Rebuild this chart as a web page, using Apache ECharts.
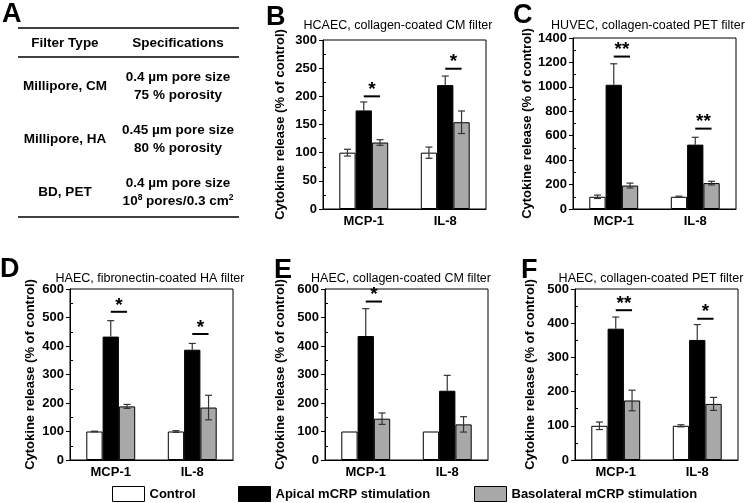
<!DOCTYPE html>
<html><head><meta charset="utf-8">
<script src="https://cdn.jsdelivr.net/npm/echarts@6/dist/echarts.min.js"></script>
<style>html,body{margin:0;padding:0;background:#fff}#c{width:745px;height:503px}</style>
</head><body><div id="c"></div>
<script>
// ---------- DATA ----------
const categories = ['MCP-1', 'IL-8'];
const seriesNames = ['Control', 'Apical mCRP stimulation', 'Basolateral mCRP stimulation'];

// Panel B
const bTitle = 'HCAEC, collagen-coated CM filter';
const bControl = [100, 100];   const bControlErr = [6, 10];
const bApical = [175, 220];    const bApicalErr = [15, 16];
const bBaso = [118, 154];      const bBasoErr = [5, 20];
const bSigY = [200, 249];      const bSigStars = [1, 1];
const bTicks = [0, 300, 50];

// Panel C
const cTitle = 'HUVEC, collagen-coated PET filter';
const cControl = [100, 100];   const cControlErr = [14, 5];
const cApical = [1017, 527];   const cApicalErr = [172, 60];
const cBaso = [192, 212];      const cBasoErr = [20, 15];
const cSigY = [1248, 658];     const cSigStars = [2, 2];
const cTicks = [0, 1400, 200];

// Panel D
const dTitle = 'HAEC, fibronectin-coated HA filter';
const dControl = [100, 100];   const dControlErr = [1, 3];
const dApical = [433, 387];    const dApicalErr = [56, 22];
const dBaso = [188, 184];      const dBasoErr = [7, 43];
const dSigY = [520, 442];      const dSigStars = [1, 1];
const dTicks = [0, 600, 100];

// Panel E
const eTitle = 'HAEC, collagen-coated CM filter';
const eControl = [100, 100];   const eControlErr = [0, 0];
const eApical = [435, 243];    const eApicalErr = [96, 54];
const eBaso = [145, 125];      const eBasoErr = [20, 27];
const eSigY = [556];           const eSigStars = [1];
const eTicks = [0, 600, 100];

// Panel F
const fTitle = 'HAEC, collagen-coated PET filter';
const fControl = [100, 100];   const fControlErr = [11, 3];
const fApical = [384, 351];    const fApicalErr = [34, 45];
const fBaso = [174, 164];      const fBasoErr = [30, 19];
const fSigY = [438, 413];      const fSigStars = [2, 1];
const fTicks = [0, 500, 100];

// Panel A table
const tableHeader = ['Filter Type', 'Specifications'];
const tableTypes = ['Millipore, CM', 'Millipore, HA', 'BD, PET'];
const tableSpec1 = ['0.4 µm pore size', '0.45 µm pore size', '0.4 µm pore size'];
const tableSpec2 = ['75 % porosity', '80 % porosity', '10{sup|8} pores/0.3 cm{sup|2}'];

// ---------- LAYOUT / STYLE ----------
const FONT = 'Liberation Sans, Arial, sans-serif';
const GAP = 0.40;
const CAP = 7;
const barColors = ['#ffffff', '#000000', '#a8a8a8'];

const panels = [
  {letter:'B', title:bTitle, vals:[bControl,bApical,bBaso], errs:[bControlErr,bApicalErr,bBasoErr], sigY:bSigY, sigS:bSigStars, ticks:bTicks,
   grid:{left:323, top:40, width:163, height:169}, titleX:393, titleY:14, letterPos:[266,4], nameGap:36},
  {letter:'C', title:cTitle, vals:[cControl,cApical,cBaso], errs:[cControlErr,cApicalErr,cBasoErr], sigY:cSigY, sigS:cSigStars, ticks:cTicks,
   grid:{left:573, top:38, width:163, height:171}, titleX:643, titleY:14, letterPos:[513,2], nameGap:36},
  {letter:'D', title:dTitle, vals:[dControl,dApical,dBaso], errs:[dControlErr,dApicalErr,dBasoErr], sigY:dSigY, sigS:dSigStars, ticks:dTicks,
   grid:{left:70, top:289, width:163, height:171}, titleX:145, titleY:267, letterPos:[0,256], nameGap:33},
  {letter:'E', title:eTitle, vals:[eControl,eApical,eBaso], errs:[eControlErr,eApicalErr,eBasoErr], sigY:eSigY, sigS:eSigStars, ticks:eTicks,
   grid:{left:325, top:289, width:163, height:171}, titleX:396, titleY:267, letterPos:[274,257], nameGap:38},
  {letter:'F', title:fTitle, vals:[fControl,fApical,fBaso], errs:[fControlErr,fApicalErr,fBasoErr], sigY:fSigY, sigS:fSigStars, ticks:fTicks,
   grid:{left:575, top:289, width:163, height:171}, titleX:646, titleY:267, letterPos:[521,257], nameGap:38}
];

function errRender(params, api) {
  const cat = api.value(0), k = api.value(1), v = api.value(2), e = api.value(3);
  if (!e) return null;
  const band = api.size([1, 0])[0];
  const bw = band * (1 - GAP) / 3;
  const cx = api.coord([cat, v])[0] + (k - 1) * bw;
  const top = api.coord([cat, v + e])[1];
  const mid = api.coord([cat, v])[1];
  const bot = api.coord([cat, v - e])[1];
  const st = {stroke: '#333', lineWidth: 1.2};
  const ch = [
    {type:'line', shape:{x1:cx, y1:top, x2:cx, y2:(k === 1 ? mid : bot)}, style:st},
    {type:'line', shape:{x1:cx - CAP/2, y1:top, x2:cx + CAP/2, y2:top}, style:st}
  ];
  if (k !== 1) ch.push({type:'line', shape:{x1:cx - CAP/2, y1:bot, x2:cx + CAP/2, y2:bot}, style:st});
  return {type:'group', children: ch};
}

function sigRender(params, api) {
  const cat = api.value(0), y = api.value(1), n = api.value(2);
  const band = api.size([1, 0])[0];
  const bw = band * (1 - GAP) / 3;
  const c = api.coord([cat, y]);
  const x1 = c[0], x2 = c[0] + bw;
  return {type:'group', children:[
    {type:'line', shape:{x1:x1, y1:c[1], x2:x2, y2:c[1]}, style:{stroke:'#000', lineWidth:2}},
    {type:'text', x:(x1 + x2) / 2, y:c[1] + 3, style:{text:'*'.repeat(n), fill:'#000', font:'bold 19px ' + FONT, textAlign:'center', textVerticalAlign:'bottom'}}
  ]};
}

const grids = [], xAxes = [], yAxes = [], series = [], titles = [], graphics = [];

panels.forEach((p, i) => {
  grids.push(Object.assign({show:true, borderColor:'#000', borderWidth:1, containLabel:false}, p.grid));
  xAxes.push({
    type:'category', gridIndex:i, data:categories,
    axisLine:{lineStyle:{color:'#000', width:1}},
    axisTick:{alignWithLabel:true, length:4, lineStyle:{color:'#000'}},
    axisLabel:{color:'#000', fontFamily:FONT, fontWeight:'bold', fontSize:13, margin:6}
  });
  yAxes.push({
    type:'value', gridIndex:i, position:'left', min:p.ticks[0], max:p.ticks[1], interval:p.ticks[2],
    name:'Cytokine release (% of control)', nameLocation:'middle', nameGap:p.nameGap,
    nameTextStyle:{color:'#000', fontFamily:FONT, fontWeight:'bold', fontSize:13},
    axisLine:{show:true, lineStyle:{color:'#000', width:1}},
    axisTick:{show:true, length:4, lineStyle:{color:'#000'}},
    axisLabel:{color:'#000', fontFamily:FONT, fontWeight:'bold', fontSize:13, margin:6, formatter:(v) => String(v)},
    splitLine:{show:false}
  });
  yAxes.push({
    type:'value', gridIndex:i, position:'left', offset:0, min:p.ticks[0], max:p.ticks[1], interval:p.ticks[2],
    axisLine:{show:false}, axisLabel:{show:false}, splitLine:{show:false},
    axisTick:{show:true, inside:true, length:0, lineStyle:{color:'#000', width:0}},
    minorTick:{show:true, splitNumber:2, length:3, lineStyle:{color:'#000', width:1}}
  });
  p.vals.forEach((v, k) => {
    series.push({
      type:'bar', name:seriesNames[k], xAxisIndex:i, yAxisIndex:2*i, data:v,
      barGap:'0%', barCategoryGap:(GAP*100) + '%',
      itemStyle:{color:barColors[k], borderColor:'#000', borderWidth:1},
      emphasis:{disabled:true}, z:2
    });
  });
  const errData = [];
  p.vals.forEach((v, k) => v.forEach((val, c) => errData.push([c, k, val, p.errs[k][c]])));
  series.push({type:'custom', xAxisIndex:i, yAxisIndex:2*i, renderItem:errRender, data:errData,
    encode:{x:0, y:2}, z:5, silent:true});
  const sigData = p.sigY.map((y, c) => [c, y, p.sigS[c]]);
  series.push({type:'custom', xAxisIndex:i, yAxisIndex:2*i, renderItem:sigRender, data:sigData,
    encode:{x:0, y:1}, z:5, silent:true});
  titles.push({text:p.title, left:p.titleX, top:p.titleY, textAlign:'center',
    textStyle:{color:'#000', fontFamily:FONT, fontWeight:'normal', fontSize:12.5}});
  graphics.push({type:'text', left:p.letterPos[0], top:p.letterPos[1],
    style:{text:p.letter, fill:'#000', font:'bold 27px ' + FONT}});
});

// Panel A
graphics.push({type:'text', left:2, top:1, style:{text:'A', fill:'#000', font:'bold 27px ' + FONT}});
[28, 57, 217].forEach(y => graphics.push({type:'line', shape:{x1:18, y1:y, x2:239, y2:y}, style:{stroke:'#000', lineWidth:1.3}}));
const colX = [65, 178];
const tStyle = (txt, x, y) => ({type:'text', x:x, y:y, style:{text:txt, fill:'#000', font:'bold 13.5px ' + FONT, textAlign:'center', textVerticalAlign:'middle',
  rich:{sup:{fontSize:8.5, fontWeight:'bold', fontFamily:FONT, verticalAlign:'top', padding:[0,0,6,0]}}}});
graphics.push(tStyle(tableHeader[0], colX[0], 43));
graphics.push(tStyle(tableHeader[1], colX[1], 43));
const rowY = [86, 139, 192];
tableTypes.forEach((t, r) => {
  graphics.push(tStyle(t, colX[0], rowY[r]));
  graphics.push(tStyle(tableSpec1[r], colX[1], rowY[r] - 9));
  graphics.push(tStyle(tableSpec2[r], colX[1], rowY[r] + 9));
});

const legendPos = [112, 238, 474];
const legends = seriesNames.map((n, k) => ({
  data:[n], left:legendPos[k], top:486, padding:0, itemWidth:32, itemHeight:15, icon:'rect',
  itemStyle:{borderColor:'#000', borderWidth:1},
  textStyle:{color:'#000', fontFamily:FONT, fontWeight:'bold', fontSize:13},
  selectedMode:false
}));

const chart = echarts.init(document.getElementById('c'), null, {renderer:'canvas'});
chart.setOption({
  animation:false, backgroundColor:'#fff',
  title:titles, grid:grids, xAxis:xAxes, yAxis:yAxes, series:series, legend:legends, graphic:graphics
});
</script></body></html>
